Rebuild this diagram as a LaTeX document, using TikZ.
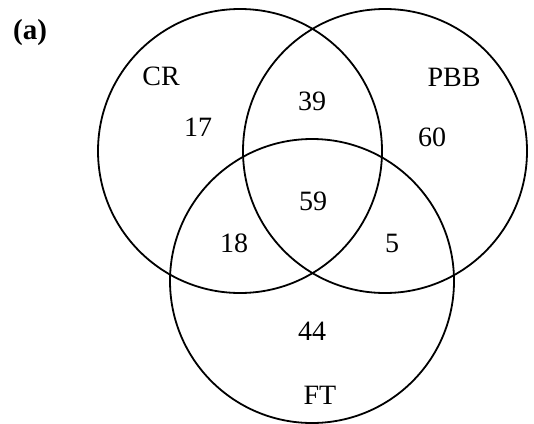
\documentclass[tikz,border=0pt]{standalone}
\usepackage{fontspec}
\setmainfont{Liberation Serif}
\begin{document}
\begin{tikzpicture}[x=1pt,y=-1pt,
  venn/.style={draw=black,line width=1.8pt,circle,minimum size=284pt,inner sep=0pt},
  lbl/.style={font=\fontsize{28}{30}\selectfont,inner sep=0pt}]
\useasboundingbox (0,0) rectangle (534,423);
\node[venn] (cr) at (240,151) {};
\node[venn] (pbb) at (385,151) {};
\node[venn] (ft) at (312,281) {};
\node[lbl,font=\fontsize{29}{30}\selectfont\bfseries] (a) at (30,33) {(a)};
\node[lbl] (tcr) at (161,76) {CR};
\node[lbl] (tpbb) at (454,77) {PBB};
\node[lbl] (tft) at (320,395) {FT};
\node[lbl] (n17) at (198,127) {17};
\node[lbl] (n39) at (312,101) {39};
\node[lbl] (n60) at (432,137) {60};
\node[lbl] (n59) at (313,201) {59};
\node[lbl] (n18) at (234,243) {18};
\node[lbl] (n5) at (392,243) {5};
\node[lbl] (n44) at (312,331) {44};
\end{tikzpicture}
\end{document}
